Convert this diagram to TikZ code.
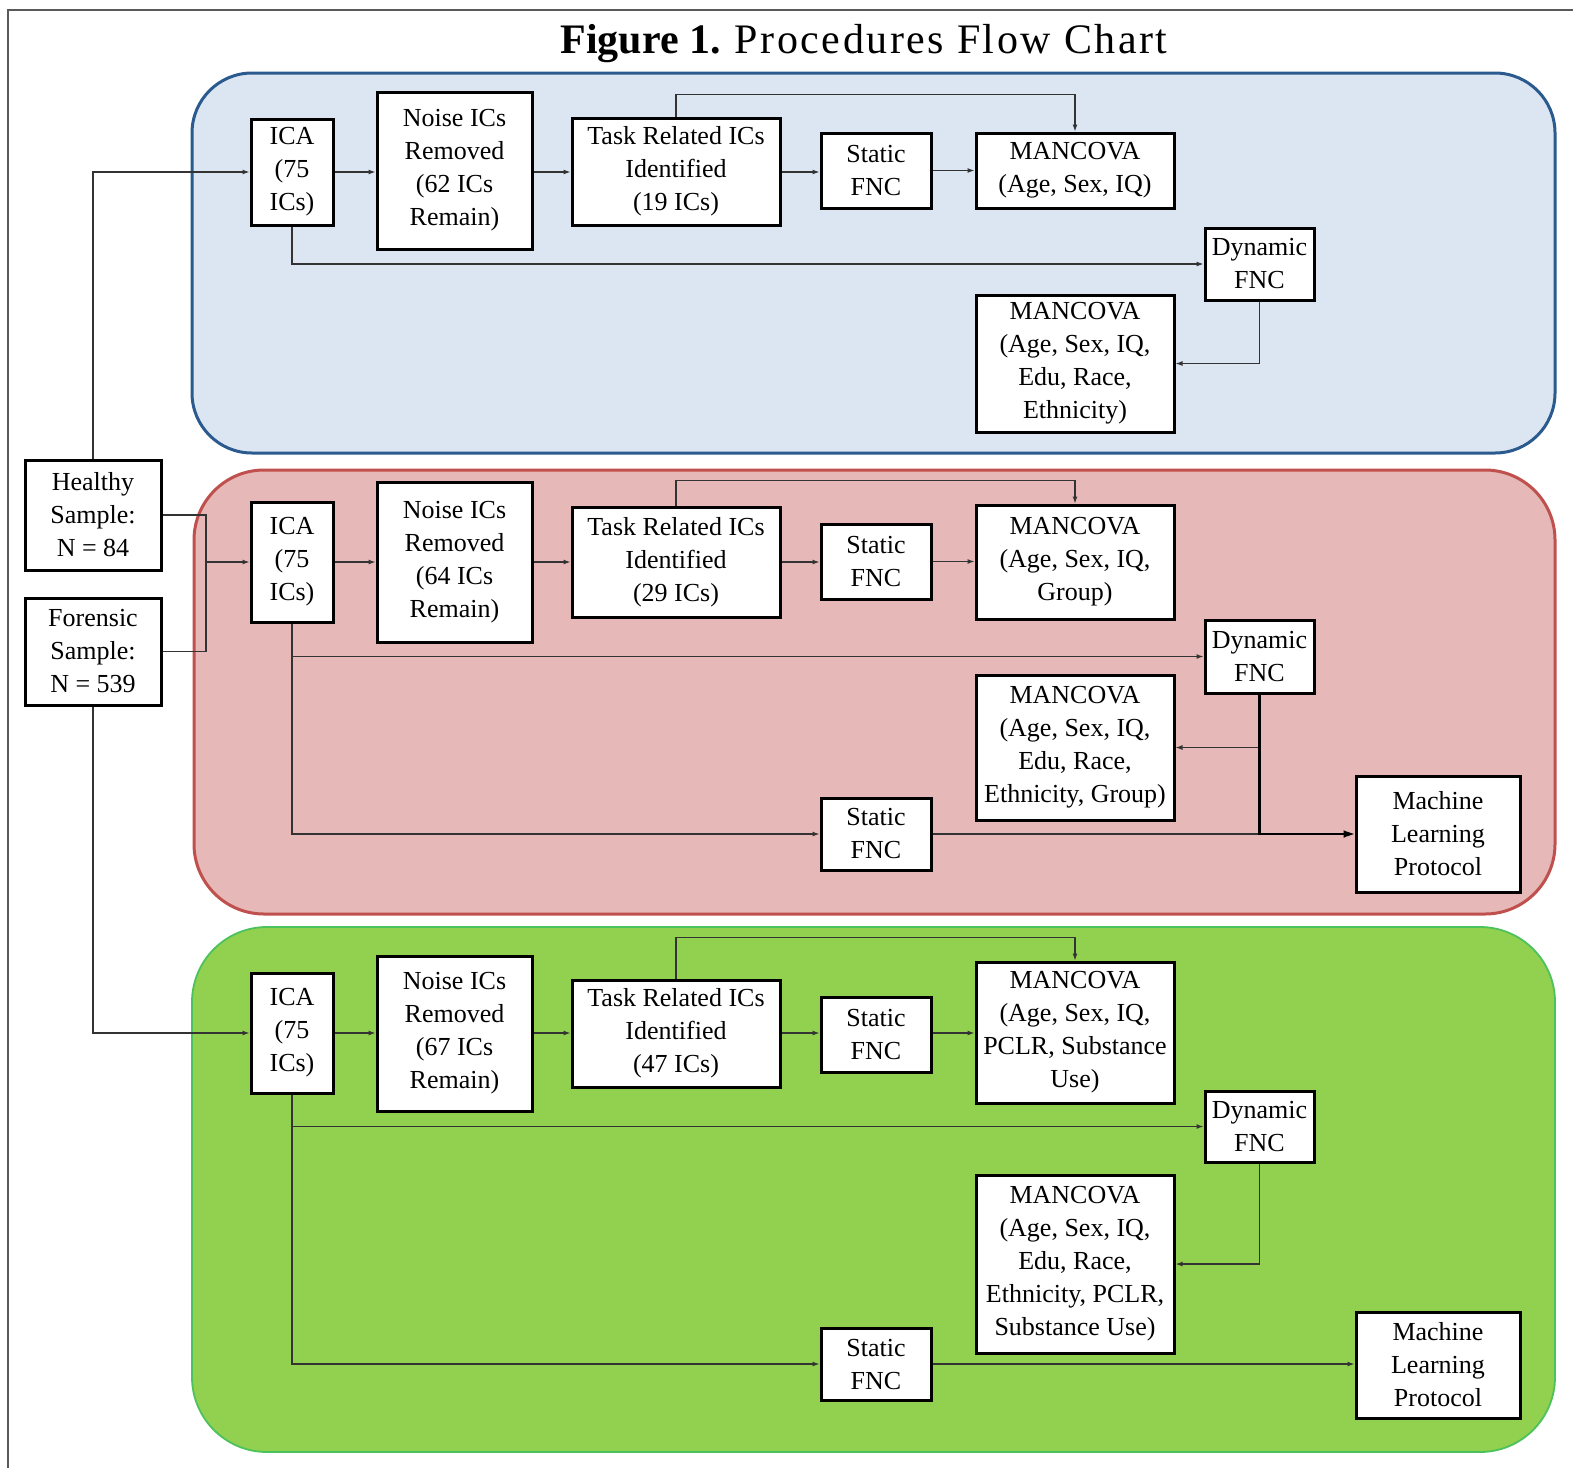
\documentclass[tikz,border=0pt]{standalone}
\usepackage{fontspec}
\setmainfont{Liberation Serif}
\usepackage{tikz}
\usetikzlibrary{arrows.meta}
\definecolor{bluefill}{HTML}{DCE6F2}
\definecolor{blueline}{HTML}{2A5A8E}
\definecolor{redfill}{HTML}{E6B8B7}
\definecolor{redline}{HTML}{C0504D}
\definecolor{greenfill}{HTML}{92D050}
\definecolor{greenline}{HTML}{4CC25C}
\definecolor{linegrey}{HTML}{333333}
\tikzstyle{box} = [draw, line width=3pt, fill=white, align=center, inner sep=0pt, font=\fontsize{26}{33}\selectfont]
\tikzstyle{samplebox} = [box, minimum width=136pt]
\tikzstyle{icabox} = [box, minimum width=82pt]
\tikzstyle{noisebox} = [box, minimum width=155pt]
\tikzstyle{taskbox} = [box, minimum width=208pt]
\tikzstyle{fncbox} = [box, minimum width=110pt]
\tikzstyle{mancbox} = [box, minimum width=198pt]
\tikzstyle{dynbox} = [box, minimum width=109pt]
\tikzstyle{mlbox} = [box, minimum width=164pt]
\tikzstyle{flow} = [-{Latex[length=7pt,width=5pt]}, line width=1.2pt, draw=linegrey]
\tikzstyle{link} = [line width=1.2pt, draw=linegrey]
\tikzstyle{boldflow} = [-{Latex[length=11pt,width=8pt]}, line width=2.5pt]

\begin{document}
\begin{tikzpicture}[x=1pt, y=-1pt]
    \useasboundingbox (0,0) rectangle (1573,1468);
    \draw [line width=1.5pt, draw=black!65] (8,1468) -- (8,10) -- (1573,10);
    \draw (864,44) node (title) {\fontsize{42}{48}\selectfont\textbf{Figure 1.} \addfontfeatures{LetterSpace=6}Procedures Flow Chart};

    % panels
    \draw [fill=bluefill, draw=blueline, line width=3pt, rounded corners=60pt] (192,73) rectangle (1555,453);
    \draw [fill=redfill, draw=redline, line width=3pt, rounded corners=70pt] (194,470) rectangle (1555,914);
    \draw [fill=greenfill, draw=greenline, line width=1.8pt, rounded corners=75pt] (192,927) rectangle (1555,1452);

    % samples
    \draw (93,515) node[samplebox, minimum height=110pt] (healthy) {Healthy\\Sample:\\N = 84};
    \draw (93,651.5) node[samplebox, minimum height=107pt] (forensic) {Forensic\\Sample:\\N = 539};

    % healthy sample
    \draw (292,172) node[icabox, minimum height=106pt] (ica1) {ICA\\(75\\ICs)};
    \draw (454.5,170.5) node[noisebox, minimum height=157pt] (noise1) {Noise ICs\\Removed\\(62 ICs\\Remain)};
    \draw (676,171.5) node[taskbox, minimum height=107pt] (task1) {Task Related ICs\\Identified\\(19 ICs)};
    \draw (876,170.5) node[fncbox, minimum height=75pt] (static1) {Static\\FNC};
    \draw (1075,170.5) node[mancbox, minimum height=75pt] (manc1) {MANCOVA\\(Age, Sex, IQ)};
    \draw (1259.5,264) node[dynbox, minimum height=72pt] (dyn1) {Dynamic\\FNC};
    \draw (1075,363.5) node[mancbox, minimum height=137pt] (mancb1) {MANCOVA\\(Age, Sex, IQ,\\Edu, Race,\\Ethnicity)};
    \draw [flow] (healthy.north) |- (ica1.west);
    \draw [flow] (ica1.east) -- (noise1.west |- ica1.east);
    \draw [flow] (noise1.east |- ica1.east) -- (task1.west |- ica1.east);
    \draw [flow] (task1.east |- ica1.east) -- (static1.west |- ica1.east);
    \draw [flow] (static1.east) -- (manc1.west);
    \draw [flow] (task1.north) -- ++(0,-22) -| (manc1.north);
    \draw [flow] (ica1.south) |- (dyn1.west);
    \draw [flow] (dyn1.south) |- (mancb1.east);

    % both samples
    \draw (292,562) node[icabox, minimum height=120pt] (ica2) {ICA\\(75\\ICs)};
    \draw (454.5,562) node[noisebox, minimum height=160pt] (noise2) {Noise ICs\\Removed\\(64 ICs\\Remain)};
    \draw (676,562) node[taskbox, minimum height=110pt] (task2) {Task Related ICs\\Identified\\(29 ICs)};
    \draw (876,561.5) node[fncbox, minimum height=75pt] (static2) {Static\\FNC};
    \draw (1075,562) node[mancbox, minimum height=114pt] (manc2) {MANCOVA\\(Age, Sex, IQ,\\Group)};
    \draw (1259.5,656.5) node[dynbox, minimum height=73pt] (dyn2) {Dynamic\\FNC};
    \draw (1075,747.5) node[mancbox, minimum height=145pt] (mancb2) {MANCOVA\\(Age, Sex, IQ,\\Edu, Race,\\Ethnicity, Group)};
    \draw (876,834) node[fncbox, minimum height=72pt] (staticb2) {Static\\FNC};
    \draw (1438,834) node[mlbox, minimum height=116pt] (ml2) {Machine\\Learning\\Protocol};
    \coordinate (join) at (206,562);
    \draw [link] (healthy.east) -| (join);
    \draw [link] (forensic.east) -| (join);
    \draw [flow] (join) -- (ica2.west);
    \draw [flow] (ica2.east) -- (noise2.west);
    \draw [flow] (noise2.east) -- (task2.west);
    \draw [flow] (task2.east) -- (static2.west |- task2.east);
    \draw [flow] (static2.east) -- (manc2.west |- static2.east);
    \draw [flow] (task2.north) -- ++(0,-25) -| (manc2.north);
    \draw [flow] (ica2.south) |- (dyn2.west);
    \draw [flow] (ica2.south) |- (staticb2.west);
    \draw [flow] (staticb2.east) -- (ml2.west);
    \draw [flow] (dyn2.south) |- (mancb2.east);
    \draw [boldflow] (dyn2.south) |- (ml2.west);

    % forensic sample
    \draw (292,1033) node[icabox, minimum height=120pt] (ica3) {ICA\\(75\\ICs)};
    \draw (454.5,1033.5) node[noisebox, minimum height=155pt] (noise3) {Noise ICs\\Removed\\(67 ICs\\Remain)};
    \draw (676,1033.5) node[taskbox, minimum height=107pt] (task3) {Task Related ICs\\Identified\\(47 ICs)};
    \draw (876,1034.5) node[fncbox, minimum height=75pt] (static3) {Static\\FNC};
    \draw (1075,1032.5) node[mancbox, minimum height=141pt] (manc3) {MANCOVA\\(Age, Sex, IQ,\\PCLR, Substance\\Use)};
    \draw (1259.5,1126.5) node[dynbox, minimum height=71pt] (dyn3) {Dynamic\\FNC};
    \draw (1075,1264) node[mancbox, minimum height=178pt] (mancb3) {MANCOVA\\(Age, Sex, IQ,\\Edu, Race,\\Ethnicity, PCLR,\\Substance Use)};
    \draw (876,1364) node[fncbox, minimum height=72pt] (staticb3) {Static\\FNC};
    \draw (1438,1365) node[mlbox, minimum height=106pt] (ml3) {Machine\\Learning\\Protocol};
    \draw [flow] (forensic.south) |- (ica3.west);
    \draw [flow] (ica3.east) -- (noise3.west |- ica3.east);
    \draw [flow] (noise3.east |- ica3.east) -- (task3.west |- ica3.east);
    \draw [flow] (task3.east |- ica3.east) -- (static3.west |- ica3.east);
    \draw [flow] (static3.east |- ica3.east) -- (manc3.west |- ica3.east);
    \draw [flow] (task3.north) -- ++(0,-41) -| (manc3.north);
    \draw [flow] (ica3.south) |- (dyn3.west);
    \draw [flow] (ica3.south) |- (staticb3.west);
    \draw [flow] (staticb3.east) -- (ml3.west |- staticb3.east);
    \draw [flow] (dyn3.south) |- (mancb3.east);
\end{tikzpicture}
\end{document}
